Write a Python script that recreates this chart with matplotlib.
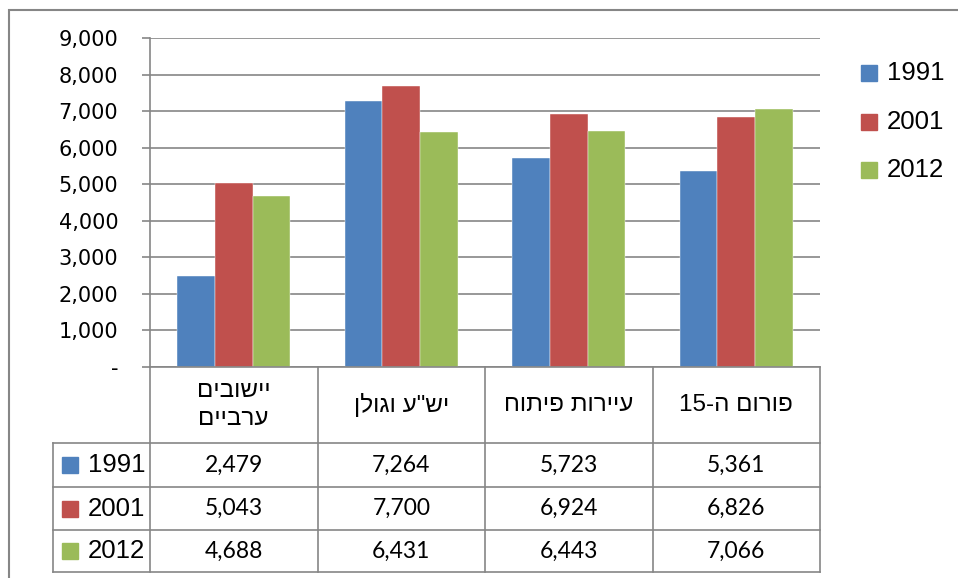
import matplotlib
matplotlib.use('Agg')
from matplotlib import pyplot as plt
from matplotlib.patches import Rectangle
import numpy as np

# chart data
categories = ['יישובים\nערביים', 'יש"ע וגולן', 'עיירות פיתוח', 'פורום ה-15']
years = ['1991', '2001', '2012']
values_1991 = [2479, 7264, 5723, 5361]
values_2001 = [5043, 7700, 6924, 6826]
values_2012 = [4688, 6431, 6443, 7066]
series = [values_1991, values_2001, values_2012]
colors = ['#4F81BD', '#C0504D', '#9BBB59']

W, H = 958, 578
GRID = '#868686'


def fx(x):
    return x / W


def fy(y):
    return 1 - y / H


def visual(s):
    '''matplotlib has no bidi, so flip hebrew text by hand
    (keeps runs of digits in their own order)'''
    out = []
    for line in s.split('\n'):
        r = line[::-1]
        fixed = ''
        run = ''
        for ch in r:
            if ch.isdigit():
                run += ch
            else:
                fixed += run[::-1] + ch
                run = ''
        fixed += run[::-1]
        out.append(fixed)
    return '\n'.join(out)


fig = plt.figure(figsize=(W / 100, H / 100), dpi=100)

# bar area
ax = fig.add_axes([fx(150), fy(367), (820 - 150) / W, (367 - 38) / H])
x = np.arange(len(categories)) + 0.5
width = 0.224
for i, vals in enumerate(series):
    ax.bar(x + (i - 1) * width, vals, width, color=colors[i], zorder=3,
           edgecolor='white', linewidth=0.3)

ax.set_xlim(0, len(categories))
ax.set_ylim(0, 9000)
ticks = np.arange(0, 9001, 1000)
ax.set_yticks(ticks)
ax.set_yticklabels(['-'] + ['{:,}'.format(t) for t in ticks[1:]],
                   fontsize=15, family='DejaVu Sans')
ax.tick_params(axis='y', length=5.8, width=1.2, color=GRID, pad=17)
ax.set_xticks([])
ax.yaxis.grid(True, color=GRID, linewidth=1.2, zorder=0)
for s in ['top', 'right', 'bottom']:
    ax.spines[s].set_visible(False)
ax.spines['left'].set_color(GRID)
ax.spines['left'].set_linewidth(1.2)

# data table under the bars
left_px = 53
cat_px = (820 - 150) / len(categories)
tx0 = -(150 - left_px) / cat_px
rows = [367, 443, 487, 530, 572]
at = fig.add_axes([fx(left_px), fy(572), (820 - left_px) / W, (572 - 367) / H])
at.set_xlim(tx0, len(categories))
at.set_ylim(rows[-1], rows[0])
at.axis('off')

lw = 1.2
# horizontal lines
at.plot([0, len(categories)], [rows[0], rows[0]], color=GRID, lw=lw, clip_on=False)
for r in rows[1:]:
    at.plot([tx0, len(categories)], [r, r], color=GRID, lw=lw, clip_on=False)
# vertical lines
for c in range(len(categories) + 1):
    at.plot([c, c], [rows[0], rows[-1]], color=GRID, lw=lw, clip_on=False)
at.plot([tx0, tx0], [rows[1], rows[-1]], color=GRID, lw=lw, clip_on=False)

for c, name in enumerate(categories):
    at.text(c + 0.5, (rows[0] + rows[1]) / 2, visual(name), ha='center',
            va='center', fontsize=17.5, linespacing=1.3,
            family=['Liberation Sans Narrow', 'Liberation Sans', 'DejaVu Sans'])

for r, (yr, vals) in enumerate(zip(years, series)):
    yc = (rows[r + 1] + rows[r + 2]) / 2
    for c, v in enumerate(vals):
        at.text(c + 0.5, yc, '{:,}'.format(v), ha='center', va='center',
                fontsize=16.5, family=['Lato', 'DejaVu Sans'])
    # legend key inside the table
    fig.add_artist(Rectangle((fx(62), fy(yc) - 8 / H), 16 / W, 16 / H,
                             color=colors[r], transform=fig.transFigure))
    fig.text(fx(88), fy(yc), yr, ha='left', va='center', fontsize=18.5,
             family='Liberation Sans')

# legend on the right
leg_y = [73, 122, 170]
for i, yr in enumerate(years):
    fig.add_artist(Rectangle((fx(861), fy(leg_y[i]) - 8 / H), 16 / W, 16 / H,
                             color=colors[i], transform=fig.transFigure))
    fig.text(fx(887), fy(leg_y[i]), yr, ha='left', va='center', fontsize=18.5,
             family='Liberation Sans')

# outer chart border
fig.add_artist(Rectangle((fx(9), fy(H + 5)), (W + 5) / W, (H + 5 - 10) / H,
                         fill=False, edgecolor=GRID, linewidth=1.5,
                         transform=fig.transFigure, clip_on=False))

fig.savefig('out.png', dpi=100)
